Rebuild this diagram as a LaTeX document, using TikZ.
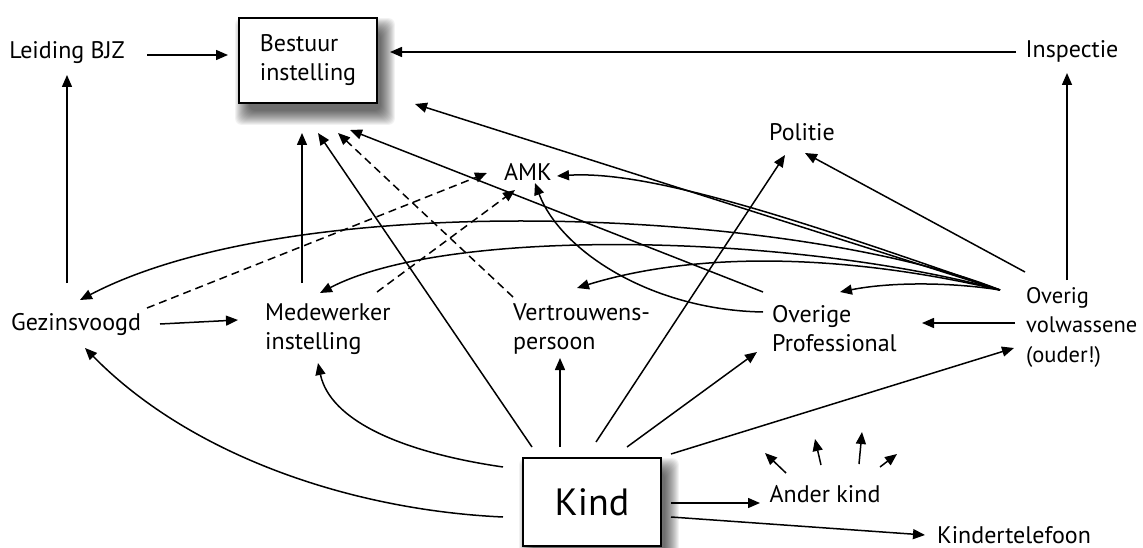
\documentclass[tikz,border=0pt]{standalone}
\usepackage{fontspec}
\setmainfont{PT Sans}
\usetikzlibrary{arrows.meta,backgrounds}
\begin{document}
\begin{tikzpicture}[x=1pt,y=-1pt,
  lbl/.style={inner sep=0pt, font=\fontsize{24}{29}\selectfont},
  mlbl/.style={lbl, align=left, anchor=west},
  boxn/.style={draw, line width=1.6pt, fill=white, minimum width=138pt, minimum height=85pt, align=left, inner sep=0pt, font=\fontsize{24}{29}\selectfont},
  conn/.style={line width=1.5pt, -{Triangle[length=12pt,width=10pt]}},
  dconn/.style={conn, dash pattern=on 8pt off 5pt}]
\useasboundingbox (0,0) rectangle (1143,548);

% nodes
\node[lbl, anchor=base] (lbjz) at (67,59) {Leiding BJZ};
\node[boxn] (best) at (308,60.5) {Bestuur\\instelling};
\node[lbl, anchor=base] (insp) at (1072,58) {Inspectie};
\node[lbl, anchor=base] (pol) at (802,141) {Politie};
\node[lbl, anchor=base] (amk) at (528,181) {AMK};
\node[lbl, anchor=base] (gez) at (76,330) {Gezinsvoogd};
\node[mlbl] (med) at (265,329) {Medewerker\\instelling};
\node[mlbl] (vert) at (513,329) {Vertrouwens-\\persoon};
\node[mlbl] (ovp) at (772,329) {Overige\\Professional};
\node[mlbl, font=\fontsize{22.5}{29.5}\selectfont] (ovv) at (1026,327) {Overig\\volwassene\\(ouder!)};
\node[boxn, minimum height=88pt, font=\fontsize{38}{44}\selectfont] (kind) at (592,502) {Kind};
\node[lbl, anchor=base] (ander) at (825,502) {Ander kind};
\node[lbl, anchor=base] (ktel) at (1014,543) {Kindertelefoon};

% background and shadows
\begin{scope}[on background layer]
\fill[white] (0,0) rectangle (1143,548);
\foreach \n in {best,kind}{
  \foreach \r in {-4,...,10}{
    \fill[black, opacity=0.05, rounded corners=6pt]
      ([shift={(7-\r,11-\r)}]\n.north west) rectangle ([shift={(7+\r,11+\r)}]\n.south east);
  }
}
\end{scope}

% top row
\draw[conn] ([shift={(80,-4)}]lbjz.base) -- ([shift={(-80,-5.5)}]best.center);
\draw[conn] ([shift={(-9,-47)}]gez.base) -- ([shift={(0,16)}]lbjz.base);
\draw[conn] ([shift={(-56,-6)}]insp.base) -- ([shift={(82,-8.5)}]best.center);
\draw[conn] ([shift={(41,-47)}]ovv.west) -- ([shift={(-5,15)}]insp.base);
\draw[conn] ([shift={(-1,-55)}]ovv.west) -- ([shift={(3,12)}]pol.base);

% fan from Overig volwassene
\draw[conn] ([shift={(-26,-37)}]ovv.west) -- ([shift={(107,43.5)}]best.center);
\draw[conn] ([shift={(-26,-37)}]ovv.west) .. controls (800,220) and (650,170) .. ([shift={(29,-5)}]amk.base);
\draw[conn] ([shift={(-26,-37)}]ovv.west) .. controls (800,210) and (300,185) .. ([shift={(4,-30)}]gez.base);
\draw[conn] ([shift={(-26,-37)}]ovv.west) .. controls (800,235) and (450,225) .. ([shift={(55,-36)}]med.west);
\draw[conn] ([shift={(-26,-37)}]ovv.west) .. controls (850,255) and (700,250) .. ([shift={(64,-41)}]vert.west);
\draw[conn] ([shift={(-26,-37)}]ovv.west) .. controls (950,282) and (890,282) .. ([shift={(68,-37)}]ovp.west);
\draw[conn] ([shift={(-11,-4)}]ovv.west) -- ([shift={(150,-6)}]ovp.west);

% from Kind
\draw[conn] ([shift={(-60,-55)}]kind.center) -- ([shift={(10,72.5)}]best.center);
\draw[conn] ([shift={(-89,-35)}]kind.center) .. controls (400,452) and (330,420) .. ([shift={(53,34)}]med.west);
\draw[conn] ([shift={(-89,15)}]kind.center) .. controls (350,510) and (190,455) .. ([shift={(9,18)}]gez.base);
\draw[conn] ([shift={(-32,-55)}]kind.center) -- ([shift={(47,29)}]vert.west);
\draw[conn] ([shift={(4,-60)}]kind.center) -- ([shift={(-17,14)}]pol.base);
\draw[conn] ([shift={(35,-55)}]kind.center) -- ([shift={(-15,23)}]ovp.west);
\draw[conn] ([shift={(79,-48)}]kind.center) -- ([shift={(-12,21)}]ovv.west);
\draw[conn] ([shift={(79,1)}]kind.center) -- ([shift={(-65,1)}]ander.base);
\draw[conn] ([shift={(79,15)}]kind.center) -- ([shift={(-89,-8)}]ktel.base);

% middle row
\draw[conn] ([shift={(84,-6)}]gez.base) -- ([shift={(-27,-9)}]med.west);
\draw[dconn] ([shift={(71,-22)}]gez.base) -- ([shift={(-41,-8)}]amk.base);
\draw[conn] ([shift={(37,-46)}]med.west) -- ([shift={(-6,72.5)}]best.center);
\draw[dconn] ([shift={(112,-37)}]med.west) -- ([shift={(-13,9)}]amk.base);
\draw[dconn] ([shift={(0,-32)}]vert.west) -- ([shift={(30,72.5)}]best.center);
\draw[conn] ([shift={(-9,-37)}]ovp.west) -- ([shift={(42,69.5)}]best.center);
\draw[conn] ([shift={(-9,-17)}]ovp.west) .. controls (650,310) and (560,250) .. ([shift={(7,2)}]amk.base);

% Ander kind small arrows
\draw[conn] ([shift={(-39,-29)}]ander.base) -- ([shift={(-60,-49)}]ander.base);
\draw[conn] ([shift={(-4,-37)}]ander.base) -- ([shift={(-10,-63)}]ander.base);
\draw[conn] ([shift={(34,-38)}]ander.base) -- ([shift={(37,-70)}]ander.base);
\draw[conn] ([shift={(55,-35)}]ander.base) -- ([shift={(72,-48)}]ander.base);
\end{tikzpicture}
\end{document}
